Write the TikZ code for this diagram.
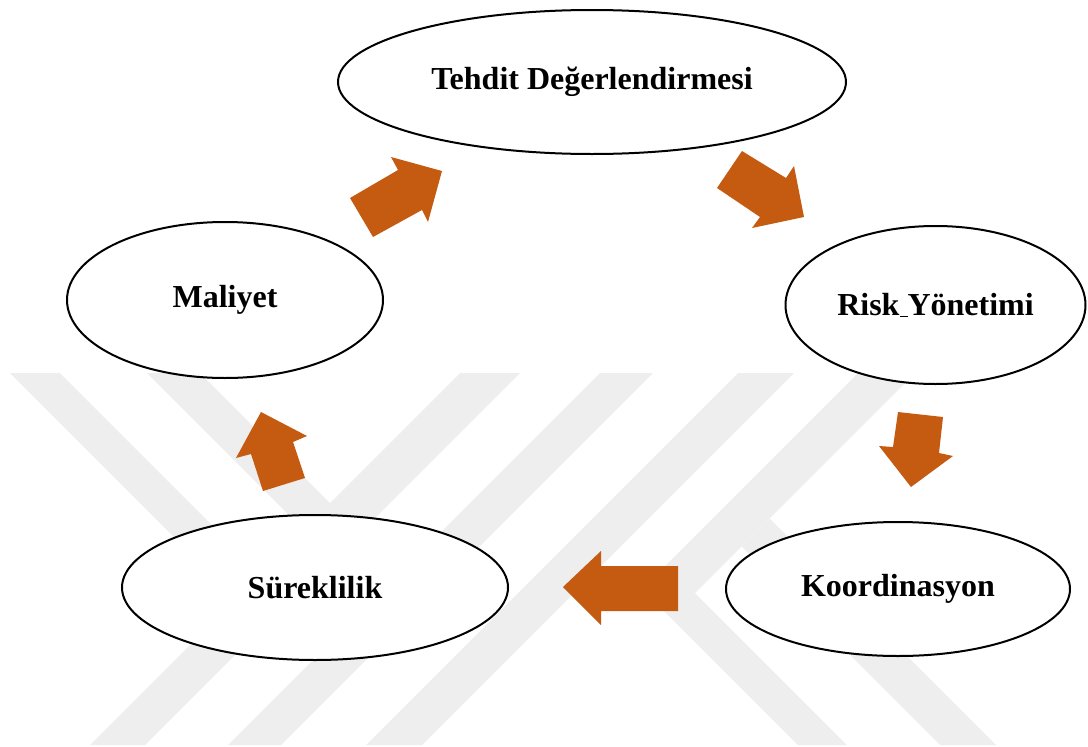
\documentclass[tikz,border=0pt]{standalone}
\usepackage{fontspec}
\setmainfont{Liberation Serif}
\usetikzlibrary{shapes.geometric}
\definecolor{arroworange}{HTML}{C55A11}
\definecolor{wmgray}{RGB}{238,238,238}
\begin{document}
\begin{tikzpicture}[x=1pt,y=-1pt,
  bubble/.style={ellipse, draw=black, line width=2pt, fill=white, inner sep=0pt,
    font=\fontsize{32}{38}\selectfont\bfseries},
  blockarrow/.style={fill=arroworange, draw=none},
  wmband/.style={fill=wmgray, draw=none}]
\useasboundingbox (0,0) rectangle (1088,747);
% background watermark bands
\fill[wmband] (10,373) -- (60,373) -- (288.5,601.5) -- (145,745) -- (90,745) -- (236,599) -- cycle;
\fill[wmband] (147,373) -- (200,373) -- (330,503) -- (460,373) -- (520,373) -- (333.5,559.5) -- cycle;
\fill[wmband] (600,373) -- (653,373) -- (281,745) -- (228,745) -- cycle;
\fill[wmband] (738,373) -- (794,373) -- (422,745) -- (366,745) -- cycle;
\fill[wmband] (858,373) -- (915,373) -- (695,593) -- (847,745) -- (798,745) -- (642,589) -- cycle;
\fill[wmband] (769.5,518.5) -- (996,745) -- (940,745) -- (741.5,546.5) -- cycle;
% nodes
\node[bubble, minimum width=508pt, minimum height=144pt] (tehdit) at (592,82) {Tehdit Değerlendirmesi};
\node[bubble, minimum width=300pt, minimum height=158pt] (risk) at (935.5,305) {Risk\underline{\ }Yönetimi};
\node[bubble, minimum width=316pt, minimum height=156pt] (maliyet) at (225,300) {Maliyet};
\node[bubble, minimum width=386pt, minimum height=145pt] (sureklilik) at (315,587.5) {Süreklilik};
\node[bubble, minimum width=344pt, minimum height=134pt] (koord) at (898,589) {Koordinasyon};
% block arrows
\fill[blockarrow] (350,198) -- (398,170) -- (391,157) -- (442,171) -- (428,222) -- (422,210) -- (373,237) -- cycle;
\fill[blockarrow] (742,151) -- (786,178) -- (794,166) -- (804,217) -- (752,228) -- (760,217) -- (717,188) -- cycle;
\fill[blockarrow] (898,412) -- (943,417) -- (939,453) -- (953,456) -- (911,487) -- (879,446) -- (893,447) -- cycle;
\fill[blockarrow] (678,566) -- (601,566) -- (601,551) -- (563,587) -- (601,625) -- (601,611) -- (678,611) -- cycle;
\fill[blockarrow] (261,412) -- (307,436) -- (293,442) -- (305,478) -- (263,491) -- (251,454) -- (236,458) -- cycle;
\end{tikzpicture}
\end{document}
